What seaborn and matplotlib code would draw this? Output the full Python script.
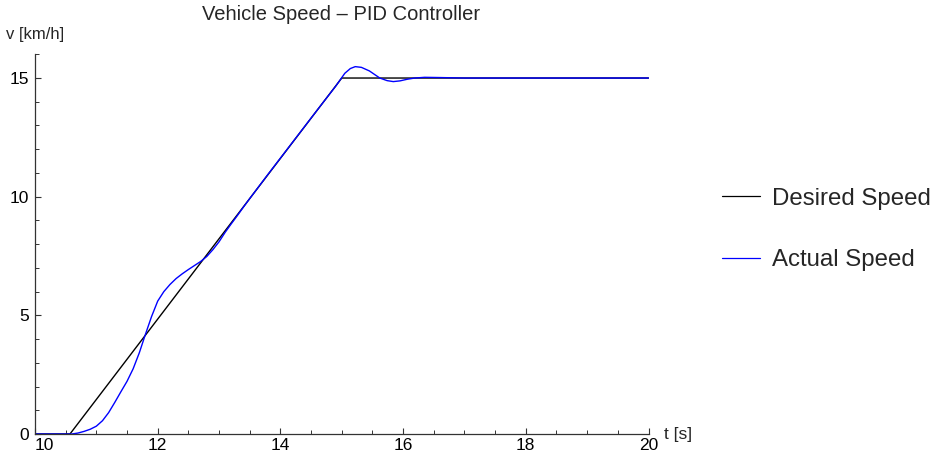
import matplotlib
matplotlib.use("Agg")
import matplotlib.pyplot as plt
import seaborn as sns
import pandas as pd
from matplotlib.ticker import MultipleLocator
from matplotlib.lines import Line2D

sns.set_theme(style="white")
plt.rcParams['font.family'] = ['Liberation Sans', 'DejaVu Sans']

# Desired speed profile (ramp)
t_desired = [10.0, 10.57, 15.0, 20.0]
v_desired = [0.0, 0.0, 15.0, 15.0]

# Actual speed
t_actual = [10.0, 10.6, 10.7, 10.8, 10.9, 11.0, 11.1, 11.2, 11.3, 11.4, 11.5,
            11.6, 11.7, 11.8, 11.9, 12.0, 12.1, 12.2, 12.3, 12.4, 12.5,
            12.6, 12.7, 12.8, 12.9, 13.0, 13.1, 13.2, 13.3, 13.4, 13.5,
            13.8, 14.2, 14.6, 14.9, 15.05, 15.14, 15.22, 15.32, 15.45, 15.62,
            15.74, 15.84, 15.95, 16.07, 16.19, 16.35, 16.6, 17.0, 18.0, 20.0]
v_actual = [0.0, 0.0, 0.04, 0.11, 0.2, 0.33, 0.56, 0.9, 1.33, 1.78, 2.22,
            2.75, 3.42, 4.2, 4.95, 5.6, 6.0, 6.3, 6.55, 6.75, 6.93,
            7.1, 7.27, 7.48, 7.77, 8.1, 8.5, 8.86, 9.21, 9.57, 9.92,
            10.95, 12.3, 13.65, 14.65, 15.2, 15.40, 15.48, 15.45, 15.30, 15.0,
            14.89, 14.85, 14.88, 14.95, 15.0, 15.03, 15.02, 15.0, 15.0, 15.0]

legend_labels = ["Desired Speed", "Actual Speed"]

df_d = pd.DataFrame({"t": t_desired, "v": v_desired, "series": legend_labels[0]})
df_a = pd.DataFrame({"t": t_actual, "v": v_actual, "series": legend_labels[1]})
df = pd.concat([df_d, df_a], ignore_index=True)

fig = plt.figure(figsize=(9.43, 4.57), dpi=100)
ax = fig.add_axes([35/943, (457-434)/457, 613.5/943, (434-54.3)/457])
sns.lineplot(data=df, x="t", y="v", hue="series", palette=["black", "#0000ff"],
             linewidth=1.0, ax=ax, legend=False, sort=False, estimator=None)

ax.set_xlim(10, 20)
ax.set_ylim(0, 16)
for s in ["top", "right"]:
    ax.spines[s].set_visible(False)
for s in ["left", "bottom"]:
    ax.spines[s].set_color("#333333")
    ax.spines[s].set_linewidth(0.9)
ax.xaxis.set_major_locator(MultipleLocator(2))
ax.xaxis.set_minor_locator(MultipleLocator(0.5))
ax.yaxis.set_major_locator(MultipleLocator(5))
ax.yaxis.set_minor_locator(MultipleLocator(1))
ax.tick_params(which="major", direction="in", length=4.5, width=0.8, color="#333333",
               labelsize=12.5, labelcolor="black")
ax.tick_params(which="minor", direction="in", length=3, width=0.7, color="#333333")
ax.tick_params(axis="x", bottom=True, which="both", pad=3)
ax.tick_params(axis="y", left=True, which="both", pad=4.5)
ax.set_xlabel("")
ax.set_ylabel("")
ax.patch.set_alpha(0)

fig.canvas.draw()
for lab in ax.get_xticklabels():
    if lab.get_text() == "10":
        lab.set_horizontalalignment("left")

fig.text(6/943, 1-35/457, "v [km/h]", fontsize=12, ha="left", va="center")
fig.text(664/943, 1-434/457, "t [s]", fontsize=12.5, ha="left", va="center")
fig.text(341/943, 1-15/457, "Vehicle Speed \u2013 PID Controller", fontsize=14.5,
         ha="center", va="center")

handles = [Line2D([], [], color="black", lw=0.9), Line2D([], [], color="#0000ff", lw=0.9)]
fig.legend(handles, legend_labels, loc="center left", bbox_to_anchor=(722/943, 1-229.5/457),
           frameon=False, fontsize=17.3, handlelength=1.58, handletextpad=0.5,
           labelspacing=1.65, borderpad=0, borderaxespad=0)

fig.savefig("out.png", dpi=100)
